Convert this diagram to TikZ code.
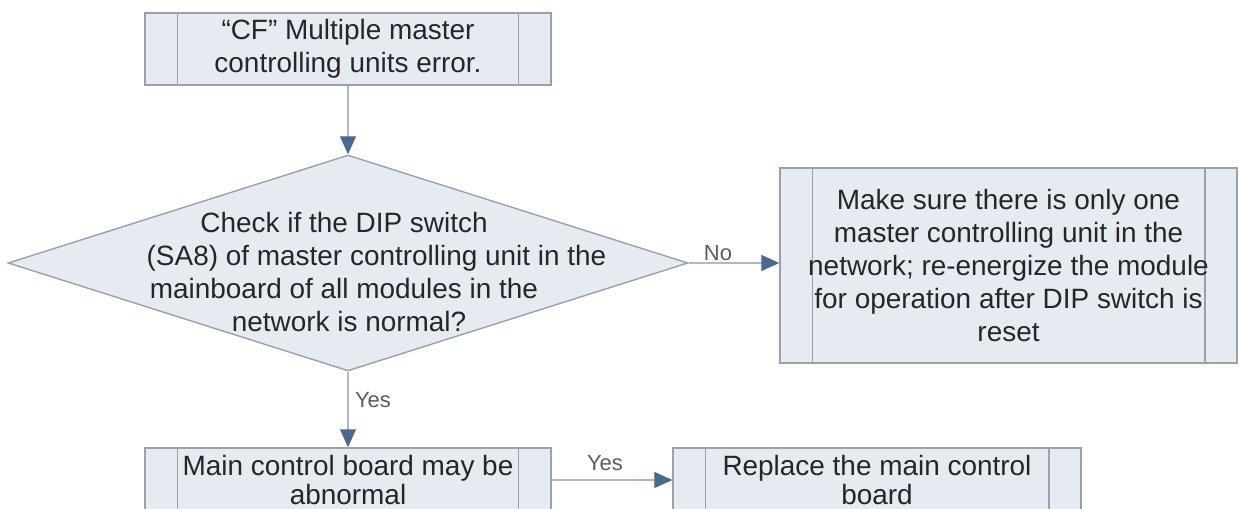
\documentclass[tikz,border=0pt]{standalone}
\usepackage{fontspec}
\setmainfont{Liberation Sans}
\usepackage{xcolor}
\definecolor{boxfill}{HTML}{E6EBF2}
\definecolor{boxline}{HTML}{98A1AC}
\definecolor{linkline}{HTML}{AEB9C7}
\definecolor{tipblue}{HTML}{4B6890}
\definecolor{txt}{HTML}{262626}
\usetikzlibrary{shapes.geometric, arrows.meta, positioning, calc}

\begin{document}
\begin{tikzpicture}[
    x=0.02cm, y=-0.02cm,
    process/.style={draw=boxline, line width=0.8pt, fill=boxfill,
                    align=center, text=txt, inner sep=0pt,
                    font=\fontsize{15.9}{18.8}\selectfont,
                    path picture={
                      \draw[boxline, line width=0.6pt]
                        ([xshift=0.64cm]path picture bounding box.north west) --
                        ([xshift=0.64cm]path picture bounding box.south west)
                        ([xshift=-0.64cm]path picture bounding box.north east) --
                        ([xshift=-0.64cm]path picture bounding box.south east);
                    }},
    lowbox/.style={process, minimum height=1.28cm,
                   font=\fontsize{15.9}{16}\selectfont},
    decision/.style={diamond, draw=boxline, line width=0.8pt, fill=boxfill,
                     inner sep=0pt, minimum width=13.6cm, minimum height=4.32cm},
    link/.style={draw=linkline, line width=0.6pt,
                 -{Triangle[length=0.36cm, width=0.32cm, color=tipblue]}},
    answer/.style={text=txt!75, font=\fontsize{12.5}{14}\selectfont}
]
    \useasboundingbox (0,0) rectangle (1241,509);
    \clip (0,0) rectangle (1241,509);

    % Fault
    \node[process, minimum width=8.12cm, minimum height=1.44cm] (cferr) at (348,49)
        {“CF” Multiple master\\controlling units error.};

    % Check
    \node[decision] (check) at (348,263) {};
    \node[align=center, text=txt, inner sep=0pt,
          font=\fontsize{15.9}{18.8}\selectfont] (checktxt) at (344,272)
        {Check if the DIP switch\\
         \hspace*{1.3cm}(SA8) of master controlling unit in the\\
         mainboard of all modules in the\hspace*{0.4cm}\\
         \hspace*{0.2cm}network is normal?};

    % Actions
    \node[process, minimum width=9.14cm, minimum height=3.9cm] (onlyone) at (1008.5,265.5)
        {Make sure there is only one\\master controlling unit in the\\network; re-energize the module\\for operation after DIP switch is\\reset};
    \node[lowbox, minimum width=8.12cm] (board) at (348,480)
        {Main control board may be\\abnormal};
    \node[lowbox, minimum width=8.16cm] (replace) at (877,480)
        {Replace the main control\\board};

    % Answers
    \node[answer] (no) at (718,253) {No};
    \node[answer] (yes1) at (373,400) {Yes};
    \node[answer] (yes2) at (605,463) {Yes};

    % Connecting lines
    \draw[link] (cferr.south) -- (check.north);
    \draw[link] (check.east) -- (check.east -| onlyone.west);
    \draw[link] (check.south) -- (board.north);
    \draw[link] (board.east) -- (replace.west);
\end{tikzpicture}
\end{document}
